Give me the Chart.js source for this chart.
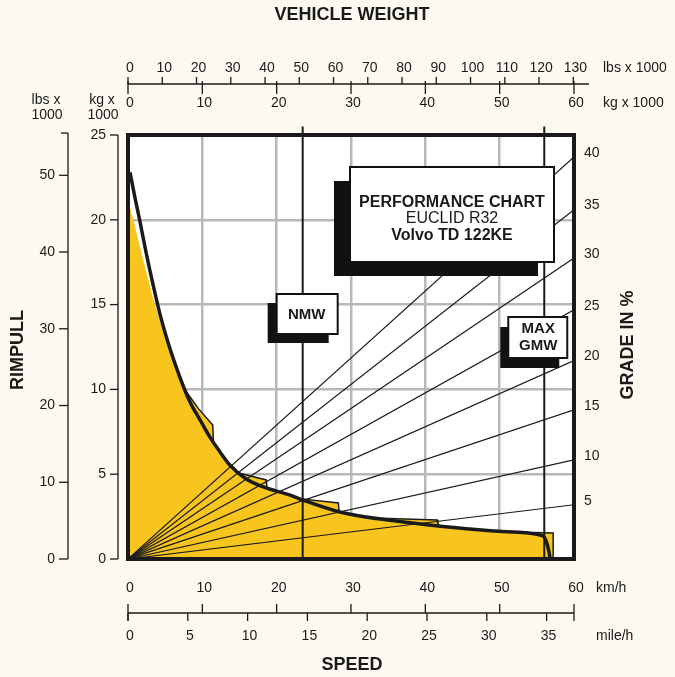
<!DOCTYPE html>
<html>
<head>
<meta charset="utf-8">
<script src="https://cdn.jsdelivr.net/npm/chart.js@4.4.0/dist/chart.umd.min.js"></script>
<style>
  html, body { margin: 0; padding: 0; background: #fcfaf0; }
  #wrap { width: 675px; height: 677px; }
</style>
</head>
<body>
<div id="wrap"><canvas id="grafico" width="675" height="677"></canvas></div>
<script>
// speed axis (bottom)
const kmhTicks = [0, 10, 20, 30, 40, 50, 60];
const mphTicks = [0, 5, 10, 15, 20, 25, 30, 35];
const KMH_PER_MPH = 1.609;

// vehicle weight axis (top), same pixels as speed: 0..60
const kgTicks = [0, 10, 20, 30, 40, 50, 60];
const lbsTicks = [0, 10, 20, 30, 40, 50, 60, 70, 80, 90, 100, 110, 120, 130];
const LBS_PER_KG_TOP = 2.17;   // as drawn on the top scale

// rimpull axis (left)
const pullKgTicks = [0, 5, 10, 15, 20, 25];
const pullLbsTicks = [0, 10, 20, 30, 40, 50];
const LBS_PER_KG_LEFT = 2.21;  // as drawn on the left scale

// rimpull envelope, km/h -> kg x 1000
const speedKmh = [0.27, 0.94, 1.61, 2.42, 3.36, 4.44, 5.65, 7.0, 8.34, 9.69, 11.0, 12.4, 13.7, 15.7, 18.2, 21.8, 23.5, 28.5, 38.3, 51.8, 55.8, 56.3, 56.6, 56.8];
const rimpull  = [22.8, 21.3, 19.9, 18.1, 16.2, 14.2, 12.4, 10.7, 9.26, 8.2, 7.2, 6.3, 5.54, 4.78, 4.25, 3.77, 3.48, 2.77, 2.12, 1.59, 1.36, 1.0, 0.5, 0.0];

// yellow area top (gears with shift steps)
const fillSpeed = [0, 0.94, 1.61, 2.42, 3.36, 4.44, 5.65, 7.0, 7.7, 9.5, 11.4, 11.5, 12.4, 13.7, 15.0, 18.6, 18.7, 21.8, 23.0, 28.3, 28.4, 34.0, 41.6, 41.7, 45.0, 51.8, 55.0, 57.2, 57.2];
const fillPull  = [21.2, 19.6, 18.4, 17.0, 15.4, 13.8, 12.2, 10.6, 9.95, 8.85, 7.9, 6.85, 6.3, 5.54, 5.05, 4.66, 4.2, 3.77, 3.56, 3.30, 2.78, 2.4, 2.30, 2.0, 1.85, 1.59, 1.55, 1.53, 0];

// gear shift steps outlines
const stepSpeed = [[7.7, 9.5, 11.4, 11.5], [15.0, 18.6, 18.7], [23.0, 28.3, 28.4], [34.0, 41.6, 41.7], [54.5, 57.2, 57.2]];
const stepPull  = [[9.95, 8.85, 7.9, 6.85], [5.05, 4.66, 4.2], [3.56, 3.30, 2.78], [2.4, 2.30, 2.0], [1.56, 1.53, 0]];

// grade lines, rimpull reached at 60 t
const grades = [5, 10, 15, 20, 25, 30, 35, 40];
const gradePullAt60 = [3.2, 5.85, 8.8, 11.7, 14.7, 17.75, 20.6, 23.7];

const nmwWeight = 23.5;
const gmwWeight = 56;

const FONT = "'Liberation Sans', Arial, sans-serif";
const INK = '#1a1a1a';

const toPts = (xs, ys) => xs.map((x, i) => ({ x: x, y: ys[i] }));

function txt(ctx, s, x, y, size, bold, align) {
  ctx.font = (bold ? 'bold ' : '') + size + 'px ' + FONT;
  ctx.textAlign = align || 'center';
  ctx.textBaseline = 'middle';
  ctx.fillStyle = INK;
  ctx.fillText(s, x, y);
}

function line(ctx, x1, y1, x2, y2, w) {
  ctx.beginPath();
  ctx.lineWidth = w;
  ctx.strokeStyle = INK;
  ctx.moveTo(x1, y1);
  ctx.lineTo(x2, y2);
  ctx.stroke();
}

function shadowBox(ctx, x, y, w, h, dx, dy) {
  ctx.fillStyle = '#111';
  ctx.fillRect(x - dx, y + dy, w, h);
  ctx.fillStyle = '#fff';
  ctx.fillRect(x, y, w, h);
  ctx.lineWidth = 2;
  ctx.strokeStyle = '#111';
  ctx.strokeRect(x, y, w, h);
}

const extras = {
  id: 'extras',
  beforeDraw(chart) {
    const a = chart.chartArea, ctx = chart.ctx;
    ctx.save();
    ctx.fillStyle = '#ffffff';
    ctx.fillRect(a.left, a.top, a.right - a.left, a.bottom - a.top);
    ctx.restore();
  },
  afterDraw(chart) {
    const ctx = chart.ctx, a = chart.chartArea;
    const xs = chart.scales.x, ys = chart.scales.y;
    ctx.save();

    /* frame */
    ctx.lineWidth = 4;
    ctx.strokeStyle = INK;
    ctx.strokeRect(a.left, a.top, a.right - a.left, a.bottom - a.top);

    /* top axis: vehicle weight */
    txt(ctx, 'VEHICLE WEIGHT', 352, 15, 18, true);
    const topY = 84;
    line(ctx, a.left, topY, a.right + 15, topY, 1.3);
    lbsTicks.forEach(v => {
      const px = xs.getPixelForValue(v / LBS_PER_KG_TOP);
      line(ctx, px, topY - 7, px, topY, 1.3);
      txt(ctx, String(v), px + 2, 68, 14, false);
    });
    kgTicks.forEach(v => {
      const px = xs.getPixelForValue(v);
      line(ctx, px, topY - 3, px, topY + 10, 1.3);
      txt(ctx, String(v), px + 2, 103, 14, false);
    });
    txt(ctx, 'lbs x 1000', 603, 68, 14, false, 'left');
    txt(ctx, 'kg x 1000', 603, 103, 14, false, 'left');

    /* left axes: rimpull */
    txt(ctx, 'lbs x', 46, 100, 14, false);
    txt(ctx, '1000', 47, 115, 14, false);
    txt(ctx, 'kg x', 102, 100, 14, false);
    txt(ctx, '1000', 103, 115, 14, false);

    const lbsX = 68, kgX = 118;
    line(ctx, lbsX, ys.getPixelForValue(25) - 2, lbsX, ys.getPixelForValue(0), 1.3);
    line(ctx, lbsX - 7, ys.getPixelForValue(25) - 2, lbsX, ys.getPixelForValue(25) - 2, 1.3);
    pullLbsTicks.forEach(v => {
      const py = ys.getPixelForValue(v / LBS_PER_KG_LEFT);
      line(ctx, lbsX - 9, py, lbsX, py, 1.3);
      txt(ctx, String(v), lbsX - 13, py, 14, false, 'right');
    });
    line(ctx, kgX, ys.getPixelForValue(25), kgX, ys.getPixelForValue(0), 1.3);
    pullKgTicks.forEach(v => {
      const py = ys.getPixelForValue(v);
      line(ctx, kgX - 8, py, kgX, py, 1.3);
      txt(ctx, String(v), kgX - 12, py, 14, false, 'right');
    });

    ctx.save();
    ctx.translate(18, 350);
    ctx.rotate(-Math.PI / 2);
    txt(ctx, 'RIMPULL', 0, 0, 18, true);
    ctx.restore();

    /* right: grade labels */
    grades.forEach((g, i) => {
      const py = ys.getPixelForValue(gradePullAt60[i]);
      txt(ctx, String(g), a.right + 10, py - 4, 14, false, 'left');
    });
    ctx.save();
    ctx.translate(628, 345);
    ctx.rotate(-Math.PI / 2);
    txt(ctx, 'GRADE IN %', 0, 0, 18, true);
    ctx.restore();

    /* bottom axis: speed */
    const botY = 613;
    line(ctx, xs.getPixelForValue(0), botY, xs.getPixelForValue(60), botY, 1.3);
    kmhTicks.forEach(v => {
      const px = xs.getPixelForValue(v);
      const end = (v === 0 || v === 60) ? botY + 8 : botY;
      line(ctx, px, botY - 9, px, end, 1.3);
      txt(ctx, String(v), px + 2, 588, 14, false);
    });
    mphTicks.forEach(v => {
      const px = xs.getPixelForValue(v * KMH_PER_MPH);
      line(ctx, px, botY, px, botY + 8, 1.3);
      txt(ctx, String(v), px + 2, 636, 14, false);
    });
    txt(ctx, 'km/h', 596, 588, 14, false, 'left');
    txt(ctx, 'mile/h', 596, 636, 14, false, 'left');
    txt(ctx, 'SPEED', 352, 665, 18, true);

    /* boxes */
    shadowBox(ctx, 350, 167, 204, 95, 16, 14);
    txt(ctx, 'PERFORMANCE CHART', 452, 203, 16, true);
    txt(ctx, 'EUCLID R32', 452, 219, 16, false);
    txt(ctx, 'Volvo TD 122KE', 452, 236, 16, true);

    const nx = xs.getPixelForValue(nmwWeight);
    shadowBox(ctx, nx - 26, 294, 61, 40, 9, 9);
    txt(ctx, 'NMW', nx + 4, 315, 15, true);

    const gx = xs.getPixelForValue(gmwWeight);
    shadowBox(ctx, gx - 36, 317, 59, 41, 8, 10);
    txt(ctx, 'MAX', gx - 6, 329, 15, true);
    txt(ctx, 'GMW', gx - 6, 346, 15, true);

    ctx.restore();
  }
};

const datasets = [];
datasets.push({
  data: toPts(speedKmh, rimpull),
  borderColor: INK, borderWidth: 3.5, pointRadius: 0,
  cubicInterpolationMode: 'monotone', fill: false, order: 1
});
stepSpeed.forEach((s, i) => {
  datasets.push({
    data: toPts(s, stepPull[i]),
    borderColor: INK, borderWidth: 1.5, pointRadius: 0, tension: 0, fill: false, order: 2
  });
});
[nmwWeight, gmwWeight].forEach(w => {
  datasets.push({
    data: [{ x: w, y: 0 }, { x: w, y: 25.5 }],
    borderColor: INK, borderWidth: 2, pointRadius: 0, fill: false, clip: false, order: 3
  });
});
grades.forEach((g, i) => {
  datasets.push({
    data: [{ x: 0, y: 0 }, { x: 60, y: gradePullAt60[i] }],
    borderColor: INK, borderWidth: 1.2, pointRadius: 0, fill: false, order: 4
  });
});
datasets.push({
  data: toPts(fillSpeed, fillPull),
  borderWidth: 0, borderColor: 'rgba(0,0,0,0)', backgroundColor: '#f7c51e',
  pointRadius: 0, tension: 0, fill: 'origin', order: 5
});

new Chart(document.getElementById('grafico').getContext('2d'), {
  type: 'line',
  data: { datasets: datasets },
  options: {
    responsive: false,
    animation: false,
    devicePixelRatio: 1,
    layout: { padding: { left: 128, right: 101, top: 135, bottom: 118 } },
    plugins: { legend: { display: false }, tooltip: { enabled: false } },
    scales: {
      x: {
        type: 'linear', min: 0, max: 60,
        ticks: { stepSize: 10, display: false },
        grid: { color: '#b8b8b8', lineWidth: 2.5, drawTicks: false },
        border: { display: false }
      },
      y: {
        type: 'linear', min: 0, max: 25,
        ticks: { stepSize: 5, display: false },
        grid: { color: '#b8b8b8', lineWidth: 2.5, drawTicks: false },
        border: { display: false }
      }
    }
  },
  plugins: [extras]
});
</script>
</body>
</html>
